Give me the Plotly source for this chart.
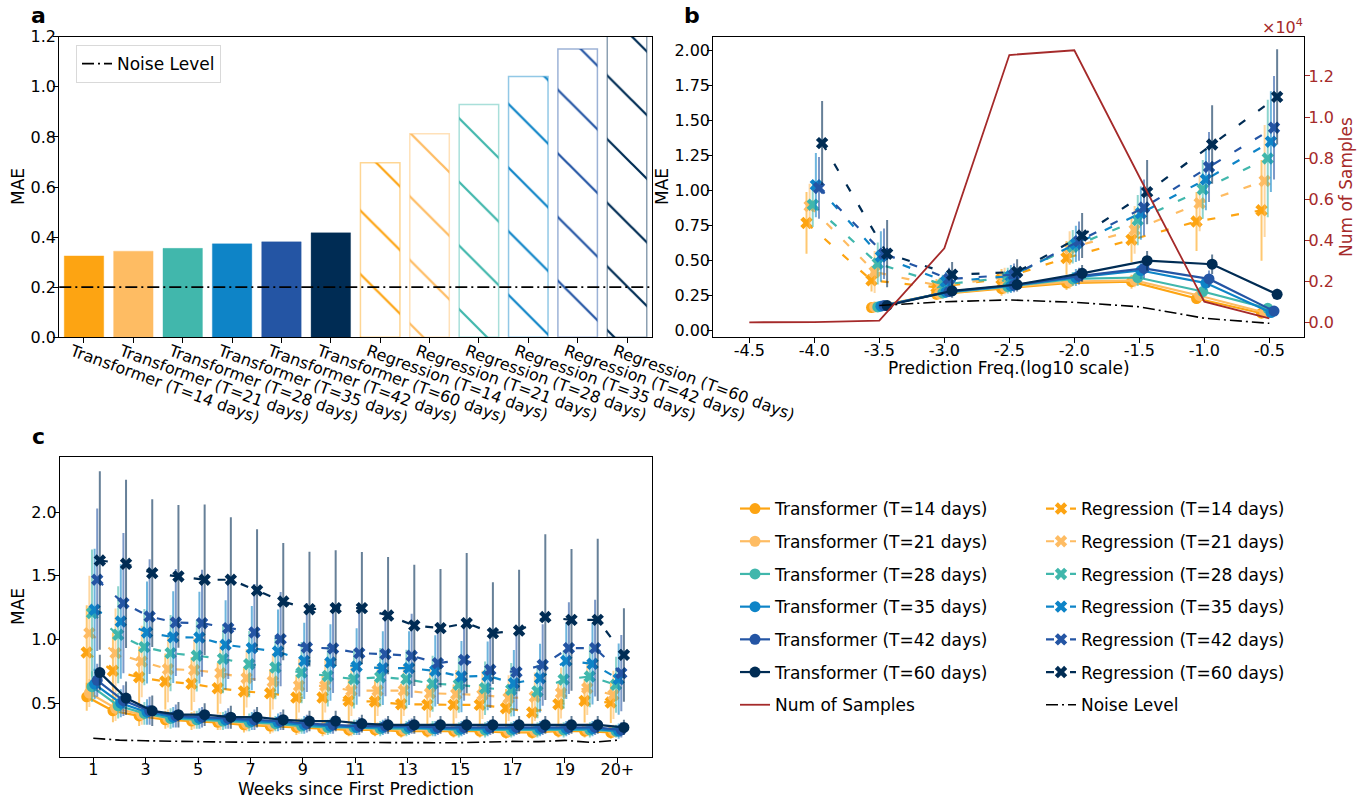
import plotly.graph_objects as go

W, H = 1367, 801
FONT = "DejaVu Sans"

# ---------------- data ----------------
t_labels = ["T=14 days", "T=21 days", "T=28 days", "T=35 days", "T=42 days", "T=60 days"]
colors = ["#FDA412", "#FEBC63", "#41B7AC", "#0E84C7", "#2455A4", "#002C54"]
red = "#A52A2A"

# panel a
bar_mae_transformer = [0.325, 0.344, 0.355, 0.373, 0.381, 0.417]
bar_mae_regression = [0.697, 0.813, 0.929, 1.041, 1.151, 1.27]
noise_level_a = 0.2

# panel b
freq_bins_samples = [-4.5, -4.0, -3.5, -3.0, -2.5, -2.0, -1.5, -1.0, -0.5]
num_samples = [20, 30, 100, 3620, 13020, 13250, 7100, 1020, 210]
freq_bins_trans = [-3.5, -3.0, -2.5, -2.0, -1.5, -1.0, -0.5]
freq_bins_reg = [-4.0, -3.5, -3.0, -2.5, -2.0, -1.5, -1.0, -0.5]
freq_ticktext = ["-4.5", "-4.0", "-3.5", "-3.0", "-2.5", "-2.0", "-1.5", "-1.0", "-0.5"]
trans_b_mae = [
    [0.165, 0.26, 0.30, 0.34, 0.35, 0.23, 0.125],
    [0.17, 0.265, 0.31, 0.35, 0.36, 0.25, 0.13],
    [0.17, 0.27, 0.315, 0.37, 0.38, 0.28, 0.16],
    [0.175, 0.275, 0.32, 0.38, 0.43, 0.34, 0.13],
    [0.18, 0.28, 0.325, 0.39, 0.445, 0.37, 0.14],
    [0.18, 0.285, 0.33, 0.41, 0.50, 0.475, 0.26],
]
trans_b_err = [
    [0.02, 0.04, 0.05, 0.05, 0.05, 0.04, 0.03],
    [0.02, 0.04, 0.05, 0.05, 0.05, 0.04, 0.03],
    [0.02, 0.04, 0.05, 0.05, 0.06, 0.05, 0.03],
    [0.03, 0.04, 0.05, 0.06, 0.06, 0.05, 0.03],
    [0.03, 0.04, 0.05, 0.06, 0.07, 0.06, 0.03],
    [0.03, 0.05, 0.05, 0.06, 0.07, 0.07, 0.04],
]
reg_b_mae = [
    [0.77, 0.36, 0.31, 0.37, 0.52, 0.65, 0.78, 0.86],
    [0.89, 0.42, 0.32, 0.38, 0.59, 0.72, 0.91, 1.07],
    [0.90, 0.48, 0.33, 0.38, 0.60, 0.79, 1.01, 1.23],
    [1.04, 0.53, 0.35, 0.39, 0.62, 0.84, 1.08, 1.35],
    [1.02, 0.55, 0.37, 0.40, 0.64, 0.88, 1.17, 1.45],
    [1.34, 0.55, 0.40, 0.42, 0.68, 0.99, 1.33, 1.67],
]
reg_b_err = [
    [0.22, 0.08, 0.06, 0.07, 0.12, 0.16, 0.21, 0.36],
    [0.16, 0.15, 0.06, 0.07, 0.12, 0.17, 0.20, 0.40],
    [0.16, 0.15, 0.07, 0.07, 0.12, 0.18, 0.21, 0.42],
    [0.23, 0.18, 0.07, 0.08, 0.13, 0.19, 0.22, 0.36],
    [0.22, 0.18, 0.08, 0.08, 0.14, 0.20, 0.25, 0.37],
    [0.30, 0.24, 0.09, 0.09, 0.16, 0.23, 0.28, 0.34],
]
noise_b = [0.18, 0.207, 0.22, 0.203, 0.171, 0.089, 0.053]

# panel c
weeks = list(range(1, 22))
week_tickvals = [1, 3, 5, 7, 9, 11, 13, 15, 17, 19, 21]
week_ticktext = ["1", "3", "5", "7", "9", "11", "13", "15", "17", "19", "20+"]
trans_c_mae = [
    [0.55, 0.44, 0.40, 0.37, 0.36, 0.35, 0.33, 0.32, 0.31, 0.30, 0.29, 0.29, 0.28, 0.28, 0.28, 0.28, 0.27, 0.27, 0.28, 0.28, 0.27],
    [0.58, 0.46, 0.41, 0.38, 0.37, 0.36, 0.34, 0.33, 0.32, 0.31, 0.30, 0.30, 0.29, 0.29, 0.29, 0.29, 0.28, 0.28, 0.29, 0.29, 0.28],
    [0.63, 0.48, 0.42, 0.38, 0.37, 0.36, 0.35, 0.34, 0.32, 0.31, 0.31, 0.30, 0.30, 0.30, 0.29, 0.29, 0.29, 0.29, 0.29, 0.29, 0.28],
    [0.65, 0.50, 0.43, 0.39, 0.38, 0.37, 0.36, 0.35, 0.33, 0.32, 0.31, 0.31, 0.31, 0.30, 0.30, 0.30, 0.30, 0.30, 0.30, 0.30, 0.28],
    [0.68, 0.52, 0.44, 0.40, 0.39, 0.38, 0.37, 0.36, 0.34, 0.33, 0.32, 0.32, 0.32, 0.31, 0.31, 0.31, 0.31, 0.31, 0.31, 0.31, 0.29],
    [0.74, 0.54, 0.44, 0.41, 0.41, 0.39, 0.39, 0.37, 0.36, 0.36, 0.34, 0.33, 0.33, 0.33, 0.33, 0.33, 0.33, 0.33, 0.33, 0.33, 0.31],
]
trans_c_err = [
    [0.11, 0.09, 0.08, 0.07, 0.07, 0.06, 0.06, 0.06, 0.06, 0.06, 0.05, 0.05, 0.05, 0.05, 0.05, 0.05, 0.05, 0.05, 0.05, 0.05, 0.05],
    [0.11, 0.10, 0.08, 0.07, 0.07, 0.07, 0.06, 0.06, 0.06, 0.06, 0.06, 0.05, 0.05, 0.05, 0.05, 0.05, 0.05, 0.05, 0.05, 0.05, 0.05],
    [0.12, 0.10, 0.09, 0.08, 0.07, 0.07, 0.07, 0.06, 0.06, 0.06, 0.06, 0.06, 0.06, 0.06, 0.06, 0.06, 0.06, 0.06, 0.06, 0.06, 0.05],
    [0.12, 0.11, 0.10, 0.08, 0.08, 0.07, 0.07, 0.07, 0.07, 0.06, 0.06, 0.06, 0.06, 0.06, 0.06, 0.06, 0.06, 0.06, 0.06, 0.06, 0.06],
    [0.13, 0.12, 0.11, 0.09, 0.08, 0.08, 0.08, 0.07, 0.07, 0.07, 0.07, 0.06, 0.06, 0.06, 0.06, 0.06, 0.06, 0.06, 0.06, 0.06, 0.06],
    [0.14, 0.13, 0.12, 0.10, 0.09, 0.09, 0.08, 0.08, 0.08, 0.08, 0.07, 0.07, 0.07, 0.07, 0.07, 0.07, 0.07, 0.07, 0.07, 0.07, 0.06],
]
reg_c_mae = [
    [0.898, 0.754, 0.704, 0.67, 0.652, 0.618, 0.592, 0.578, 0.544, 0.544, 0.518, 0.513, 0.492, 0.487, 0.487, 0.487, 0.461, 0.427, 0.492, 0.518, 0.505],
    [1.05, 0.893, 0.827, 0.767, 0.76, 0.736, 0.696, 0.67, 0.636, 0.636, 0.599, 0.599, 0.599, 0.578, 0.571, 0.565, 0.54, 0.55, 0.58, 0.618, 0.565],
    [1.207, 1.037, 0.94, 0.893, 0.872, 0.848, 0.806, 0.78, 0.74, 0.714, 0.689, 0.704, 0.689, 0.652, 0.645, 0.618, 0.605, 0.592, 0.686, 0.709, 0.644],
    [1.233, 1.141, 1.055, 1.018, 1.015, 0.958, 0.932, 0.905, 0.832, 0.819, 0.788, 0.775, 0.775, 0.754, 0.709, 0.714, 0.657, 0.696, 0.832, 0.809, 0.689],
    [1.469, 1.285, 1.18, 1.133, 1.128, 1.089, 1.055, 1.003, 0.937, 0.93, 0.893, 0.885, 0.872, 0.814, 0.84, 0.762, 0.744, 0.80, 0.932, 0.932, 0.736],
    [1.62, 1.594, 1.521, 1.495, 1.469, 1.469, 1.385, 1.298, 1.238, 1.246, 1.246, 1.188, 1.11, 1.089, 1.128, 1.05, 1.07, 1.176, 1.154, 1.154, 0.879],
]
reg_c_err = [
    [0.37, 0.30, 0.24, 0.22, 0.21, 0.20, 0.19, 0.19, 0.18, 0.18, 0.17, 0.17, 0.16, 0.16, 0.16, 0.16, 0.15, 0.15, 0.16, 0.17, 0.16],
    [0.45, 0.35, 0.28, 0.26, 0.25, 0.24, 0.23, 0.22, 0.21, 0.21, 0.20, 0.20, 0.20, 0.19, 0.19, 0.19, 0.18, 0.19, 0.20, 0.21, 0.19],
    [0.50, 0.38, 0.30, 0.30, 0.28, 0.27, 0.26, 0.25, 0.24, 0.24, 0.23, 0.23, 0.23, 0.22, 0.22, 0.21, 0.21, 0.21, 0.23, 0.24, 0.22],
    [0.48, 0.45, 0.40, 0.36, 0.36, 0.35, 0.33, 0.33, 0.30, 0.30, 0.30, 0.29, 0.29, 0.28, 0.28, 0.27, 0.26, 0.27, 0.30, 0.32, 0.28],
    [0.56, 0.55, 0.45, 0.42, 0.42, 0.40, 0.38, 0.37, 0.35, 0.35, 0.34, 0.33, 0.33, 0.32, 0.32, 0.30, 0.30, 0.32, 0.36, 0.38, 0.30],
    [0.70, 0.66, 0.58, 0.56, 0.59, 0.49, 0.48, 0.46, 0.45, 0.455, 0.44, 0.46, 0.476, 0.464, 0.55, 0.40, 0.477, 0.65, 0.556, 0.636, 0.367],
]
noise_c = [0.225, 0.21, 0.205, 0.2, 0.198, 0.195, 0.193, 0.192, 0.19, 0.19, 0.188, 0.19, 0.19, 0.19, 0.19, 0.195, 0.2, 0.198, 0.208, 0.192, 0.21]

# ---------------- helpers ----------------
def rgba(hexc, a):
    hexc = hexc.lstrip("#")
    r, g, b = int(hexc[0:2], 16), int(hexc[2:4], 16), int(hexc[4:6], 16)
    return f"rgba({r},{g},{b},{a})"

def px_x(p):
    return p / W

def px_y(p):
    return 1 - p / H

offs_b = [-0.06, -0.036, -0.012, 0.012, 0.036, 0.06]
offs_c = [-0.25, -0.15, -0.05, 0.05, 0.15, 0.25]
NOISE_DASH = "12px,4px,2px,4px"
REG_DASH = "8px,16px"

fig = go.Figure()

# ---------------- panel a ----------------
cat_trans = [f"Transformer ({t})" for t in t_labels]
cat_reg = [f"Regression ({t})" for t in t_labels]
fig.add_trace(go.Bar(
    x=cat_trans, y=bar_mae_transformer, width=0.8,
    marker=dict(color=colors, line=dict(color=[rgba(c, 0.35) for c in colors], width=1)),
    showlegend=False, xaxis="x", yaxis="y"))
fig.add_trace(go.Bar(
    x=cat_reg, y=bar_mae_regression, width=0.8,
    marker=dict(color=colors, line=dict(color=[rgba(c, 0.45) for c in colors], width=1.5),
                pattern=dict(shape="\\", size=45, solidity=0.05, fillmode="replace")),
    showlegend=False, xaxis="x", yaxis="y"))
fig.add_trace(go.Scatter(x=[None], y=[None], mode="lines", name="Noise Level",
                         line=dict(color="black", width=1.8, dash=NOISE_DASH),
                         legend="legend3", xaxis="x", yaxis="y"))
fig.add_shape(type="line", xref="x domain", yref="y", x0=0, x1=1,
              y0=noise_level_a, y1=noise_level_a,
              line=dict(color="black", width=1.8, dash=NOISE_DASH))

# ---------------- panel b ----------------
for i, c in enumerate(colors):
    fig.add_trace(go.Scatter(
        x=[b + offs_b[i] for b in freq_bins_reg], y=reg_b_mae[i], mode="lines+markers",
        line=dict(color=c, width=2.2, dash=REG_DASH),
        marker=dict(symbol="x", size=11, color=c),
        error_y=dict(type="data", array=reg_b_err[i], color=rgba(c, 0.6), thickness=2, width=0),
        showlegend=False, xaxis="x2", yaxis="y2"))
for i, c in enumerate(colors):
    fig.add_trace(go.Scatter(
        x=[b + offs_b[i] for b in freq_bins_trans], y=trans_b_mae[i], mode="lines+markers",
        line=dict(color=c, width=2.2),
        marker=dict(symbol="circle", size=11, color=c),
        error_y=dict(type="data", array=trans_b_err[i], color=rgba(c, 0.6), thickness=2, width=0),
        showlegend=False, xaxis="x2", yaxis="y2"))
fig.add_trace(go.Scatter(
    x=freq_bins_trans, y=noise_b, mode="lines",
    line=dict(color="black", width=1.6, dash=NOISE_DASH),
    showlegend=False, xaxis="x2", yaxis="y2"))
fig.add_trace(go.Scatter(
    x=freq_bins_samples, y=[v / 1e4 for v in num_samples], mode="lines",
    name="Num of Samples", line=dict(color=red, width=1.8),
    legend="legend", legendrank=7, legendgroup="samples",
    xaxis="x2", yaxis="y3"))

# ---------------- panel c ----------------
for i, c in enumerate(colors):
    fig.add_trace(go.Scatter(
        x=[w + offs_c[i] for w in weeks], y=reg_c_mae[i], mode="lines+markers",
        name=f"Regression ({t_labels[i]})",
        line=dict(color=c, width=2.2, dash=REG_DASH),
        marker=dict(symbol="x", size=11, color=c),
        error_y=dict(type="data", array=reg_c_err[i], color=rgba(c, 0.6), thickness=2, width=0),
        legend="legend2", legendrank=i + 1, legendgroup=f"reg{i}",
        xaxis="x3", yaxis="y4"))
for i, c in enumerate(colors):
    fig.add_trace(go.Scatter(
        x=[w + offs_c[i] for w in weeks], y=trans_c_mae[i], mode="lines+markers",
        name=f"Transformer ({t_labels[i]})",
        line=dict(color=c, width=2.2),
        marker=dict(symbol="circle", size=11, color=c),
        error_y=dict(type="data", array=trans_c_err[i], color=rgba(c, 0.6), thickness=2, width=0),
        legend="legend", legendrank=i + 1, legendgroup=f"tr{i}",
        xaxis="x3", yaxis="y4"))
fig.add_trace(go.Scatter(
    x=weeks, y=noise_c, mode="lines", name="Noise Level",
    line=dict(color="black", width=1.6, dash=NOISE_DASH),
    legend="legend2", legendrank=7, legendgroup="noise",
    xaxis="x3", yaxis="y4"))

# ---------------- layout ----------------
tickfont = dict(family=FONT, size=16, color="black")
common = dict(showline=True, linecolor="black", linewidth=1.2, mirror=True,
              ticks="outside", ticklen=5, tickwidth=1.2, tickcolor="black",
              showgrid=False, zeroline=False, tickfont=tickfont, automargin=False)

yab = [px_y(337.3), px_y(36.7)]
fig.update_layout(
    width=W, height=H, margin=dict(l=0, r=0, t=0, b=0, autoexpand=False),
    paper_bgcolor="white", plot_bgcolor="white",
    font=dict(family=FONT, size=16, color="black"),
    barmode="overlay", showlegend=True,
    xaxis=dict(domain=[px_x(59.3), px_x(651.7)], anchor="y", type="category",
               categoryorder="array", categoryarray=cat_trans + cat_reg,
               range=[-0.5, 11.5], tickangle=20, **common),
    yaxis=dict(domain=yab, anchor="x", range=[0, 1.2], dtick=0.2, tickformat=".1f", **common),
    xaxis2=dict(domain=[px_x(713.3), px_x(1304.3)], anchor="y2", range=[-4.777, -0.231],
                tickvals=freq_bins_samples, ticktext=freq_ticktext, **common),
    yaxis2=dict(domain=yab, anchor="x2", range=[-0.047, 2.1], dtick=0.25, tickformat=".2f", **common),
    yaxis3=dict(overlaying="y2", anchor="x2", side="right", range=[-0.071, 1.391],
                tickvals=[0, 0.2, 0.4, 0.6, 0.8, 1.0, 1.2],
                ticktext=["0.0", "0.2", "0.4", "0.6", "0.8", "1.0", "1.2"],
                showline=False, showgrid=False, zeroline=False, automargin=False,
                ticks="outside", ticklen=5, tickwidth=1.2, tickcolor=red,
                tickfont=dict(family=FONT, size=16, color=red)),
    xaxis3=dict(domain=[px_x(60), px_x(651.7)], anchor="y4", range=[-0.27, 22.31],
                tickvals=week_tickvals, ticktext=week_ticktext, **common),
    yaxis4=dict(domain=[px_y(756.7), px_y(457.3)], anchor="x3", range=[0.08, 2.43],
                tickvals=[0.5, 1.0, 1.5, 2.0], ticktext=["0.5", "1.0", "1.5", "2.0"], **common),
    legend=dict(x=px_x(735), y=px_y(491), xanchor="left", yanchor="top",
                font=dict(family=FONT, size=17), bgcolor="rgba(0,0,0,0)",
                tracegroupgap=7.6, itemwidth=30),
    legend2=dict(x=px_x(1041), y=px_y(491), xanchor="left", yanchor="top",
                 font=dict(family=FONT, size=17), bgcolor="rgba(0,0,0,0)",
                 tracegroupgap=7.6, itemwidth=30),
    legend3=dict(x=px_x(76), y=px_y(45), xanchor="left", yanchor="top",
                 font=dict(family=FONT, size=17), bgcolor="white",
                 bordercolor="#d9d9d9", borderwidth=1, itemwidth=30),
)

# tick label fine placement (closer to the axes, like the reference)
try:
    fig.update_layout(
        xaxis=dict(ticklabelstandoff=-7, ticklabelshift=-12),
        xaxis2=dict(ticklabelstandoff=-7),
        xaxis3=dict(ticklabelstandoff=-7),
        yaxis=dict(ticklabelstandoff=-6),
        yaxis2=dict(ticklabelstandoff=-6),
        yaxis4=dict(ticklabelstandoff=-6),
        yaxis3=dict(ticklabelstandoff=-5),
    )
except Exception:
    pass

# axis titles
titles = [
    dict(text="MAE", x=px_x(18), y=px_y(187), textangle=-90),
    dict(text="MAE", x=px_x(662), y=px_y(187), textangle=-90),
    dict(text="MAE", x=px_x(18), y=px_y(607), textangle=-90),
    dict(text="Prediction Freq.(log10 scale)", x=px_x(1009), y=px_y(368), textangle=0),
    dict(text="Weeks since First Prediction", x=px_x(356), y=px_y(789), textangle=0),
]
for t in titles:
    fig.add_annotation(xref="paper", yref="paper", showarrow=False,
                       xanchor="center", yanchor="middle",
                       font=dict(family=FONT, size=17, color="black"), **t)
fig.add_annotation(xref="paper", yref="paper", showarrow=False, text="Num of Samples",
                   x=px_x(1346), y=px_y(187), textangle=-90, xanchor="center", yanchor="middle",
                   font=dict(family=FONT, size=17, color=red))

annots = [
    dict(text="<b>a</b>", x=px_x(38), y=px_y(15)),
    dict(text="<b>b</b>", x=px_x(692), y=px_y(15)),
    dict(text="<b>c</b>", x=px_x(38), y=px_y(436)),
]
for a in annots:
    fig.add_annotation(xref="paper", yref="paper", showarrow=False,
                       xanchor="center", yanchor="middle",
                       font=dict(family=FONT, size=22, color="black"), **a)
fig.add_annotation(xref="paper", yref="paper", showarrow=False,
                   text="×10<sup>4</sup>", x=px_x(1305), y=px_y(39), xanchor="right", yanchor="bottom",
                   font=dict(family=FONT, size=16, color=red))

fig.write_html("out.html")
